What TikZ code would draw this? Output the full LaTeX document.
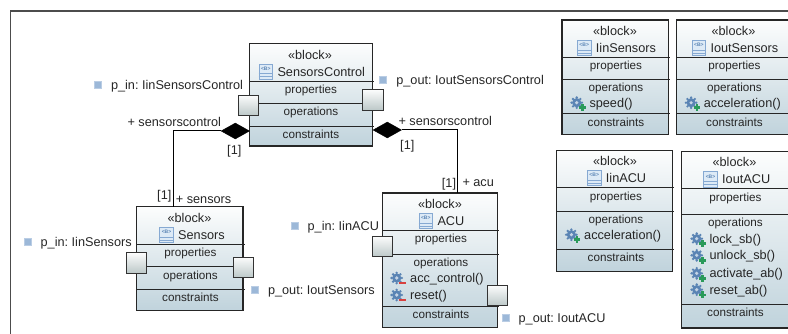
\documentclass[tikz,border=0pt]{standalone}
\usepackage{fontspec}
\setmainfont{Liberation Sans}
\usetikzlibrary{positioning,shapes.geometric}
\frenchspacing

\definecolor{blocktop}{HTML}{FCFDFD}
\definecolor{blockbot}{HTML}{C0D3DC}
\definecolor{portbot}{HTML}{BCC8C8}
\definecolor{markblue}{HTML}{9CB8D8}
\definecolor{iconfill}{HTML}{DDEAF6}
\definecolor{iconline}{HTML}{86A9D2}
\definecolor{gearblue}{HTML}{5A84B4}
\definecolor{badgegreen}{HTML}{2A9A5A}
\definecolor{badgered}{HTML}{D8413F}

\tikzset{
	blockbox/.style={draw=black!85,line width=1.1pt,top color=blocktop,bottom color=blockbot,inner sep=0pt,outer sep=0pt},
	portbox/.style={draw=black!80,line width=1.1pt,top color=white!95!portbot,bottom color=portbot,minimum size=20.5pt,inner sep=0pt},
	lbl/.style={inner sep=0pt,text height=11pt,text depth=2pt,font=\fontsize{12.7}{14}\selectfont,text=black!85},
	lblsmall/.style={lbl,font=\fontsize{11.7}{13}\selectfont},
	markbox/.style={fill=markblue,draw=markblue!70,line width=0.3pt,minimum size=7pt,inner sep=0pt},
	iconbox/.style={fill=iconfill,draw=iconline,line width=0.7pt,minimum width=13.5pt,minimum height=15.5pt,inner sep=0pt},
	compo/.style={diamond,fill=black,draw=black,inner sep=0pt,minimum width=28.5pt,minimum height=16pt,aspect=1.8}
}

% gear with a plus badge
\newcommand{\gearadd}[1]{
	\begin{scope}[shift={(#1)}]
		\fill[gearblue] (0,0) circle (4.6);
		\foreach \a in {0,45,...,315}
			\fill[gearblue] (\a:5.2) circle (1.3);
		\fill[white!65!gearblue] (0,0) circle (1.8);
		\draw[badgegreen,line width=2.4pt] (2.4,5) -- (9,5) (5.7,1.7) -- (5.7,8.3);
	\end{scope}
}
% gear with a minus badge
\newcommand{\geardel}[1]{
	\begin{scope}[shift={(#1)}]
		\fill[gearblue] (0,0) circle (4.6);
		\foreach \a in {0,45,...,315}
			\fill[gearblue] (\a:5.2) circle (1.3);
		\fill[white!65!gearblue] (0,0) circle (1.8);
		\draw[badgered,line width=2.6pt] (1.8,5) -- (9,5);
	\end{scope}
}

\begin{document}
\begin{tikzpicture}[x=1pt,y=-1pt]

	\useasboundingbox (0,0) rectangle (788,334);
	\clip (0,0) rectangle (788,334);

	\draw [black!70,line width=1.2pt] (10.5,334) -- (10.5,11) -- (788,11);

	\foreach \nm/\cx/\cy/\w/\h/\da/\db/\dc/\ttl/\tx/\lx/\sy/\ty/\py/\oy/\ky in {
		control/310.8/94.85/123/102.3/81/103.3/126/SensorsControl/277.3/311/55/71.7/89/111.3/133.7,
		sensors/189.85/258.7/106.3/104/244.3/266.7/289/Sensors/178/190.5/218/235/252/274.7/297,
		acu/440/260.15/114.6/134.3/230.7/254/306/ACU/437.3/441/203.7/221/238/261.7/314,
		insensors/615.15/77.35/106.3/114.7/57.3/79/113.7/IinSensors/595.7/616/31/48/65.3/86.7/122,
		outsensors/733.85/77.35/114.3/114.7/57.3/79/113.7/IoutSensors/710.3/734.5/31/48/65.3/86.7/122,
		inacu/614.5/210.8/115.6/121/187.3/211.3/249.3/IinACU/605.7/616/161/178/195.7/219/257.3,
		outacu/735.85/239.85/108.3/176.3/188.3/214.7/304/IoutACU/722/735.5/162.3/179.3/196.7/222.3/311.7}
	{
		\node [blockbox,minimum width=\w pt,minimum height=\h pt] (\nm) at (\cx,\cy) {};
		\foreach \d in {\da,\db,\dc}
			\draw [black!85,line width=0.9pt] (\nm.west |- 0,\d) -- ([xshift=2pt]\nm.east |- 0,\d);
		\node [lbl] (\nm-st) at (\lx-1,\sy) {«block»};
		\node [lbl,anchor=west] (\nm-title) at (\tx,\ty) {\ttl};
		\node [iconbox] (\nm-icon) at ([xshift=-11.5pt]\nm-title.west) {};
		\node [inner sep=0pt,font=\fontsize{5}{5}\selectfont\bfseries,text=gearblue] (\nm-tag) at ([yshift=3pt]\nm-icon.center) {<B>};
		\draw [iconline,line width=0.7pt] ([yshift=-2pt]\nm-icon.west) -- ([yshift=-2pt]\nm-icon.east)
			([yshift=-5pt]\nm-icon.west) -- ([yshift=-5pt]\nm-icon.east);
		\node [lblsmall] (\nm-prop) at (\lx,\py) {properties};
		\node [lblsmall] (\nm-ops) at (\lx,\oy) {operations};
		\node [lblsmall] (\nm-con) at (\lx,\ky) {constraints};
	}

	\node [compo] (dleft) at (235.3,131) {};
	\node [compo] (dright) at (387.3,130) {};
	\draw [black,line width=1pt] (dleft.west) -| ([xshift=-16.85pt]sensors.north);
	\draw [black,line width=1pt] (dright.east) -| ([xshift=17.7pt]acu.north);

	\foreach \p/\x/\y in {control-l/248.65/105.35,control-r/372.85/99.85,sensors-l/136.5/263,
		sensors-r/243.35/267.35,acu-l/382.5/246.6,acu-r/497.5/295.5}
		\node [portbox] (\p) at (\x,\y) {};

	\foreach \p/\x/\y/\t in {pa/97.7/85/p\_in: IinSensorsControl,pb/383/79.7/p\_out: IoutSensorsControl,
		pc/27.3/241.7/p\_in: IinSensors,pd/254.7/290/p\_out: IoutSensors,
		pe/294.3/225.7/p\_in: IinACU,pf/505.3/317.7/p\_out: IoutACU}
	{
		\node [markbox] (\p) at (\x,\y) {};
		\node [lbl,right=9.5pt of \p] (\p-text) {\t};
	}

	\node [lbl,anchor=west] (rolea) at (127.3,121.7) {+ sensorscontrol};
	\node [lbl,anchor=west] (roleb) at (398.3,120.7) {+ sensorscontrol};
	\node [lbl,anchor=west] (rolec) at (175.7,199) {+ sensors};
	\node [lbl,anchor=west] (roled) at (462.3,182) {+ acu};
	\foreach \m/\x/\y in {ma/234.3/149.7,mb/407.3/145,mc/164.3/195,md/449/182.7}
		\node [lbl] (\m) at (\x,\y) {[1]};

	\foreach \o/\x/\y/\t in {speed/589.3/102.7/speed(),accel/703.7/102.7/acceleration(),
		accelb/584/234.7/acceleration(),lock/709.3/238.7/lock\_sb(),unlock/709.3/255.3/unlock\_sb(),
		activate/709.3/273.3/activate\_ab(),resetab/709.3/289.7/reset\_ab()}
	{
		\node [lbl,anchor=west] (\o) at (\x,\y) {\t};
		\gearadd{[xshift=-12.6pt]\o.west}
	}
	\foreach \o/\x/\y/\t in {acc/410/278/acc\_control(),reset/410/295/reset()}
	{
		\node [lbl,anchor=west] (\o) at (\x,\y) {\t};
		\geardel{[xshift=-13.3pt]\o.west}
	}

\end{tikzpicture}
\end{document}
